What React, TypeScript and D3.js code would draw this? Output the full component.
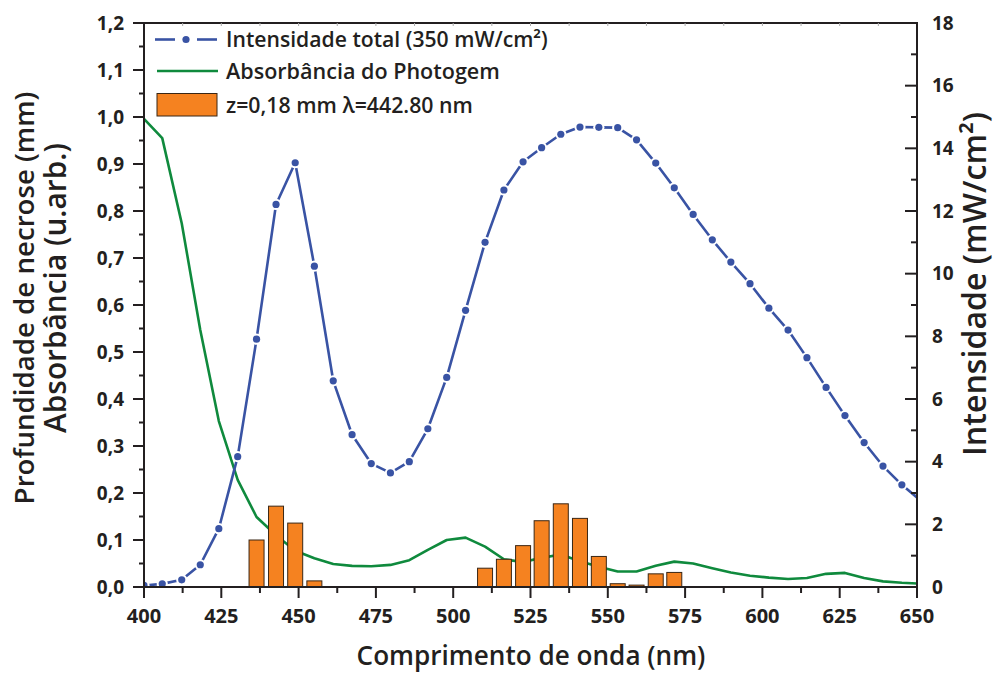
import React, { useLayoutEffect, useRef } from "react";
import * as d3 from "d3";

// ---- data ----
const wavelength = [400, 405.9, 412.2, 418.2, 424.2, 430.3, 436.4, 442.7, 448.9, 455.1, 461.2, 467.3, 473.5, 479.7, 485.8, 491.8, 497.9, 504.0, 510.3, 516.4, 522.6, 528.6, 534.8, 541.0, 547.1, 553.2, 559.3, 565.5, 571.5, 577.6, 583.8, 589.8, 596.0, 602.1, 608.3, 614.4, 620.6, 626.7, 632.9, 639.0, 645.1, 651.3];
const intensity = [0.05, 0.1, 0.23, 0.71, 1.86, 4.16, 7.91, 12.21, 13.54, 10.24, 6.58, 4.86, 3.94, 3.64, 4.0, 5.05, 6.69, 8.83, 11.0, 12.67, 13.57, 14.02, 14.45, 14.68, 14.67, 14.66, 14.27, 13.53, 12.74, 11.89, 11.08, 10.37, 9.68, 8.9, 8.2, 7.32, 6.37, 5.47, 4.61, 3.86, 3.26, 2.75];
const absorbance = [0.996, 0.955, 0.774, 0.547, 0.353, 0.228, 0.149, 0.11, 0.077, 0.061, 0.049, 0.045, 0.044, 0.047, 0.057, 0.079, 0.1, 0.105, 0.086, 0.059, 0.053, 0.062, 0.069, 0.055, 0.043, 0.033, 0.033, 0.045, 0.054, 0.05, 0.04, 0.031, 0.024, 0.02, 0.017, 0.019, 0.028, 0.03, 0.019, 0.012, 0.009, 0.007];
const barWavelength = [436.4, 442.7, 448.9, 455.1, 510.3, 516.4, 522.6, 528.6, 534.8, 541.0, 547.1, 553.2, 559.3, 565.5, 571.5];
const necroseDepth = [0.1, 0.172, 0.136, 0.013, 0.04, 0.059, 0.088, 0.141, 0.177, 0.146, 0.065, 0.007, 0.004, 0.028, 0.031];
const barWidthNm = 4.85;

const xTicks = [400, 425, 450, 475, 500, 525, 550, 575, 600, 625, 650];
const yLeftTicks = [0, 0.1, 0.2, 0.3, 0.4, 0.5, 0.6, 0.7, 0.8, 0.9, 1.0, 1.1, 1.2];
const yRightTicks = [0, 2, 4, 6, 8, 10, 12, 14, 16, 18];

const legendLabels = ["Intensidade total (350 mW/cm²)", "Absorbância do Photogem", "z=0,18 mm λ=442.80 nm"];
const xTitle = "Comprimento de onda (nm)";
const yLeftTitle1 = "Profundidade de necrose (mm)";
const yLeftTitle2 = "Absorbância (u.arb.)";
const yRightTitle = "Intensidade (mW/cm²)";

const FONT = "'Open Sans', 'Noto Sans', 'DejaVu Sans', sans-serif";
const AXIS = "#231f20";
const BLUE = "#3953a4";
const GREEN = "#0f8a3d";
const ORANGE = "#f58220";
const BAR_STROKE = "#3a2614";

export default function App() {
  const ref = useRef<SVGSVGElement>(null);
  const L = 144, R = 917, T = 23, B = 587;

  const x = d3.scaleLinear().domain([400, 650]).range([L, R]);
  const yL = d3.scaleLinear().domain([0, 1.2]).range([B, T]);
  const yR = d3.scaleLinear().domain([0, 18]).range([B, T]);

  const blueLine = d3.line<number>().x((_, i) => x(wavelength[i])).y((d) => yR(d))(intensity) || "";
  const greenLine = d3.line<number>().x((_, i) => x(wavelength[i])).y((d) => yL(d))(absorbance) || "";

  const xMinor = d3.range(400, 650.01, 12.5);
  const yLMinor = d3.range(0, 1.2001, 0.05);
  const yRMinor = d3.range(0, 18.01, 1);

  useLayoutEffect(() => {
    const svg = ref.current;
    if (!svg) return;
    svg.querySelectorAll("text[data-w]").forEach((t: any) => {
      const target = +t.getAttribute("data-w");
      const fs = parseFloat(t.getAttribute("font-size"));
      const len = t.getComputedTextLength();
      if (len > 0) t.setAttribute("font-size", String((fs * target) / len));
    });
  }, []);

  const fmt = (v: number) => v.toFixed(1).replace(".", ",");

  return (
    <svg ref={ref} width={994} height={673} style={{ position: "absolute", left: 0, top: 0, background: "#fff" }} fontFamily={FONT}>
      <defs>
        <clipPath id="plot">
          <rect x={L} y={T - 10} width={R - L} height={B - T + 10} />
        </clipPath>
      </defs>

      {/* green absorbance */}
      <path d={greenLine} fill="none" stroke={GREEN} strokeWidth={2.6} strokeLinejoin="round" clipPath="url(#plot)" />

      {/* bars */}
      {barWavelength.map((w, i) => (
        <rect
          key={i}
          x={x(w - barWidthNm / 2)}
          y={yL(necroseDepth[i])}
          width={x(w + barWidthNm / 2) - x(w - barWidthNm / 2)}
          height={yL(0) - yL(necroseDepth[i])}
          fill={ORANGE}
          stroke={BAR_STROKE}
          strokeWidth={1}
        />
      ))}

      {/* blue intensity */}
      <g clipPath="url(#plot)">
        <path d={blueLine} fill="none" stroke={BLUE} strokeWidth={2.6} strokeLinejoin="round" />
        {intensity.map((v, i) => (
          <g key={i}>
            <circle cx={x(wavelength[i])} cy={yR(v)} r={5.6} fill="#fff" />
            <circle cx={x(wavelength[i])} cy={yR(v)} r={3.6} fill={BLUE} />
          </g>
        ))}
      </g>

      {/* frame */}
      <line x1={L} x2={R} y1={T} y2={T} stroke={AXIS} strokeWidth={2} />
      {xMinor.map((v, i) => (
        <line key={"tt" + i} x1={x(v)} x2={x(v)} y1={T} y2={T + 3} stroke="#aaa" strokeWidth={1} />
      ))}
      <line x1={L} x2={R} y1={B} y2={B} stroke={AXIS} strokeWidth={2} />
      <line x1={L} x2={L} y1={T - 1} y2={B + 1} stroke={AXIS} strokeWidth={2} />
      <line x1={R} x2={R} y1={T - 1} y2={B + 1} stroke={AXIS} strokeWidth={2} />

      {/* bottom axis */}
      {xMinor.map((v, i) => {
        const major = i % 2 === 0;
        return <line key={"xm" + i} x1={x(v)} x2={x(v)} y1={B} y2={B + (major ? 11 : 6)} stroke={AXIS} strokeWidth={2} />;
      })}
      {xTicks.map((v) => (
        <text key={"xl" + v} x={x(v)} y={623} textAnchor="middle" fontSize={20} fontWeight={700} fill={AXIS}>
          {v}
        </text>
      ))}

      {/* left axis */}
      {yLMinor.map((v, i) => {
        const major = i % 2 === 0;
        return <line key={"ylm" + i} x1={L} x2={L - (major ? 11 : 5)} y1={yL(v)} y2={yL(v)} stroke={AXIS} strokeWidth={2} />;
      })}
      {yLeftTicks.map((v) => (
        <text key={"yll" + v} x={124} y={yL(v)} dy="0.35em" textAnchor="end" fontSize={19} fontWeight={700} fill={AXIS}>
          {fmt(v)}
        </text>
      ))}

      {/* right axis */}
      {yRMinor.map((v, i) => {
        const major = i % 2 === 0;
        return <line key={"yrm" + i} x1={R} x2={R - (major ? 12 : 6)} y1={yR(v)} y2={yR(v)} stroke={AXIS} strokeWidth={2} />;
      })}
      {yRightTicks.map((v) => (
        <text key={"yrl" + v} x={932} y={yR(v)} dy="0.35em" textAnchor="start" fontSize={19} fontWeight={700} fill={AXIS}>
          {v}
        </text>
      ))}

      {/* axis titles */}
      <text x={531} y={665} textAnchor="middle" fontSize={26} fontWeight={600} fill={AXIS} data-w={349}>
        {xTitle}
      </text>
      <text transform="translate(34,298) rotate(-90)" textAnchor="middle" fontSize={26} fontWeight={600} fill={AXIS} data-w={413}>
        {yLeftTitle1}
      </text>
      <text transform="translate(66,288) rotate(-90)" textAnchor="middle" fontSize={26} fontWeight={600} fill={AXIS} data-w={290}>
        {yLeftTitle2}
      </text>
      <text transform="translate(986,284) rotate(-90)" textAnchor="middle" fontSize={26} fontWeight={600} fill={AXIS} data-w={344}>
        {yRightTitle}
      </text>

      {/* legend */}
      <line x1={155} x2={175} y1={39.5} y2={39.5} stroke={BLUE} strokeWidth={2.6} />
      <line x1={197} x2={217} y1={39.5} y2={39.5} stroke={BLUE} strokeWidth={2.6} />
      <circle cx={186} cy={39.5} r={3.6} fill={BLUE} />
      <text x={226} y={46.5} fontSize={20} fontWeight={600} fill={AXIS} data-w={322}>
        {legendLabels[0]}
      </text>
      <line x1={157} x2={218} y1={71} y2={71} stroke={GREEN} strokeWidth={2.6} />
      <text x={226} y={78.5} fontSize={20} fontWeight={600} fill={AXIS} data-w={274}>
        {legendLabels[1]}
      </text>
      <rect x={157} y={93.5} width={60} height={22.5} fill={ORANGE} stroke={BAR_STROKE} strokeWidth={1} />
      <text x={226} y={112.5} fontSize={20} fontWeight={600} fill={AXIS} data-w={247}>
        {legendLabels[2]}
      </text>
    </svg>
  );
}
